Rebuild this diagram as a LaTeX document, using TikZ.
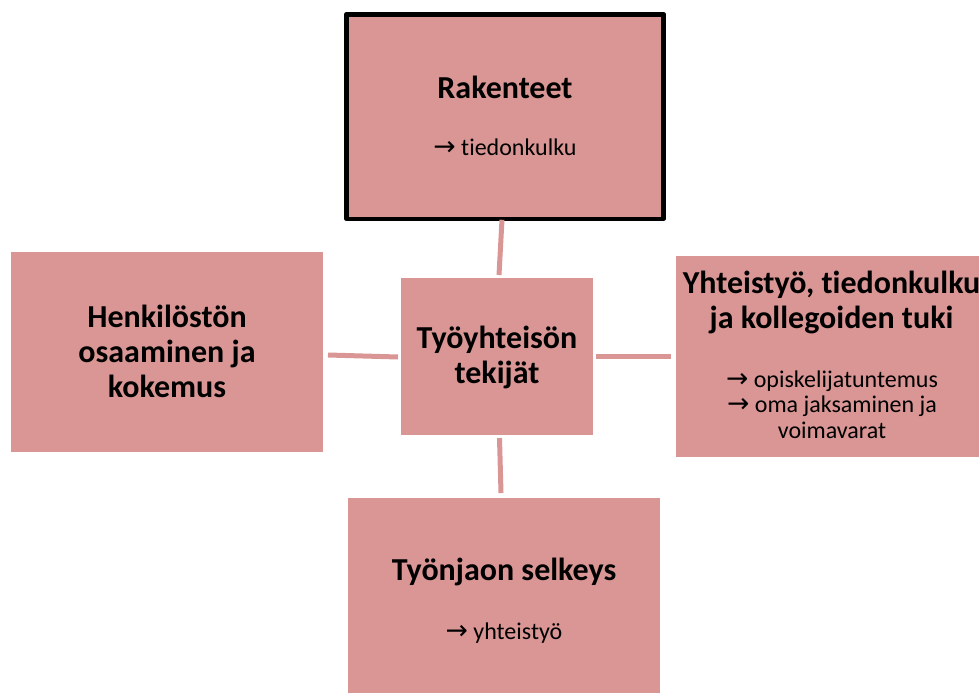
\documentclass[tikz,border=0pt]{standalone}
\usepackage{fontspec}
\setmainfont{Carlito}[Ligatures=NoCommon]
\newfontfamily\arrfont{DejaVu Sans}
\usetikzlibrary{calc}
\definecolor{boxpink}{RGB}{217,150,148}
\newcommand{\arr}{{\arrfont\fontsize{20}{20}\selectfont →}}
\tikzset{
  box/.style={fill=boxpink, inner sep=0pt, outer sep=0pt},
  head/.style={font=\fontsize{24}{26}\selectfont\bfseries, anchor=base, inner sep=0pt},
  sub/.style={font=\fontsize{18}{20}\selectfont, anchor=base, inner sep=0pt},
  link/.style={draw=boxpink, line width=3.75pt}
}
\begin{document}
\begin{tikzpicture}[x=0.75pt,y=-0.75pt]
\useasboundingbox (0,0) rectangle (979,693);
% boxes
\node[box, draw=black, line width=3.4pt, line join=round, minimum width=238.1pt, minimum height=153.4pt] (top) at (505,116.5) {};
\node[box, minimum width=144pt, minimum height=117.75pt] (cen) at (497,356.5) {};
\node[box, minimum width=234pt, minimum height=150pt] (lef) at (167,352) {};
\node[box, minimum width=233.25pt, minimum height=150.75pt] (rig) at (831.5,356.5) {};
\node[box, minimum width=234pt, minimum height=150pt] (bot) at (504,598) {};
% texts
\node[head] (rakT) at (505,98) {Rakenteet};
\node[sub] (rakS) at (505,155) {\arr\ tiedonkulku};
\node[head] (cenA) at (497,348) {Työyhteisön};
\node[head] (cenB) at (497,383) {tekijät};
\node[head] (lefA) at (167,327) {Henkilöstön};
\node[head] (lefB) at (167,362) {osaaminen ja};
\node[head] (lefC) at (167,397) {kokemus};
\node[head] (rigA) at (831.5,293) {Yhteistyö, tiedonkulku};
\node[head] (rigB) at (831.5,328) {ja kollegoiden tuki};
\node[sub] (rigC) at (832,387) {\arr\ opiskelijatuntemus};
\node[sub] (rigD) at (832,412) {\arr\ oma jaksaminen ja};
\node[sub] (rigE) at (832,438) {voimavarat};
\node[head] (botA) at (504,580) {Työnjaon selkeys};
\node[sub] (botB) at (504,639) {\arr\ yhteistyö};
% connectors
\draw[link] ($(top.south)+(-3,1)$) -- ($(cen.north)+(2,-3)$);
\draw[link] ($(lef.east)+(5,3)$) -- ($(cen.west)+(-3,0.5)$);
\draw[link] ($(cen.east)+(3,0)$) -- ($(rig.west)+(-5,0)$);
\draw[link] ($(cen.south)+(2.5,3)$) -- ($(bot.north)+(-3,-5)$);
\end{tikzpicture}
\end{document}
